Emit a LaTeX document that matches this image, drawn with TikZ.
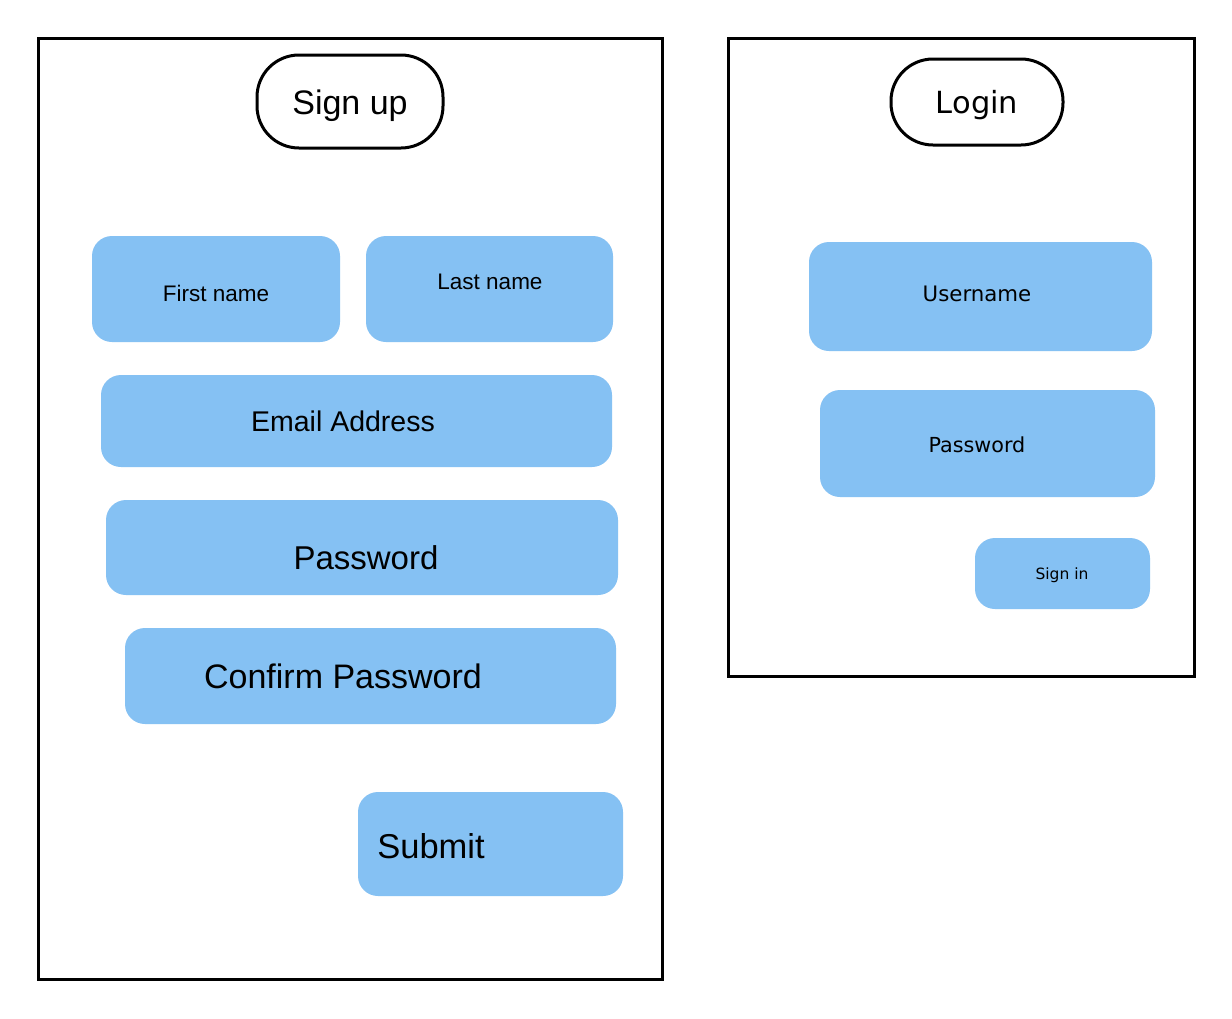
\documentclass[tikz,border=0pt]{standalone}
\usepackage{fontspec}
\setmainfont{Liberation Sans}
\newfontfamily\rfont{DejaVu Sans}
\definecolor{fieldblue}{RGB}{133,193,243}
\newcommand{\fs}[1]{\fontsize{#1}{#1}\selectfont}
\begin{document}
\begin{tikzpicture}[x=1pt,y=-1pt,
  frame/.style={draw=black,line width=3pt,fill=none},
  pill/.style={draw=black,line width=3pt,rounded corners=42pt,inner sep=0pt},
  field/.style={fill=fieldblue,draw=none,rounded corners=20pt,inner sep=0pt},
  txt/.style={inner sep=0pt,text=black}]
\useasboundingbox[fill=white] (0,0) rectangle (1232,1018);
% frames
\draw[frame] (38,38) rectangle (662,979);
\draw[frame] (728,38) rectangle (1194,676);
% sign up panel
\node[pill,minimum width=186pt,minimum height=93pt] (signupP) at (350,101.5) {};
\node[txt,font=\fs{34}] (signupT) at (350,106) {Sign up};
\node[field,minimum width=248pt,minimum height=106pt] (first) at (216,289) {};
\node[txt,font=\fs{22.5}] (firstT) at (216,293) {First name};
\node[field,minimum width=247pt,minimum height=106pt] (last) at (489.5,289) {};
\node[txt,font=\fs{22.5}] (lastT) at (490,282) {Last name};
\node[field,minimum width=511pt,minimum height=92pt] (email) at (356.5,421) {};
\node[txt,font=\fs{28.5}] (emailT) at (343,421) {Email Address};
\node[field,minimum width=512pt,minimum height=95pt] (pass) at (362,547.5) {};
\node[txt,font=\fs{33}] (passT) at (366,558) {Password};
\node[field,minimum width=491pt,minimum height=96pt] (conf) at (370.5,676) {};
\node[txt,font=\fs{34}] (confT) at (343,676) {Confirm Password};
\node[field,minimum width=265pt,minimum height=104pt] (submit) at (490.5,844) {};
\node[txt,font=\fs{34.5}] (submitT) at (431,846) {Submit};
% login panel
\node[pill,minimum width=172pt,minimum height=86pt] (loginP) at (977,102) {};
\node[txt,font=\rfont\fs{30.5}] (loginT) at (977,105) {Login};
\node[field,minimum width=343pt,minimum height=109pt] (user) at (980.5,296.5) {};
\node[txt,font=\rfont\fs{21.3}] (userT) at (977,294) {Username};
\node[field,minimum width=335pt,minimum height=107pt] (lpass) at (987.5,443.5) {};
\node[txt,font=\rfont\fs{20.7}] (lpassT) at (977,445) {Password};
\node[field,minimum width=175pt,minimum height=71pt] (signin) at (1062.5,573.5) {};
\node[txt,font=\rfont\fs{15.5}] (signinT) at (1062,575) {Sign in};
\end{tikzpicture}
\end{document}
